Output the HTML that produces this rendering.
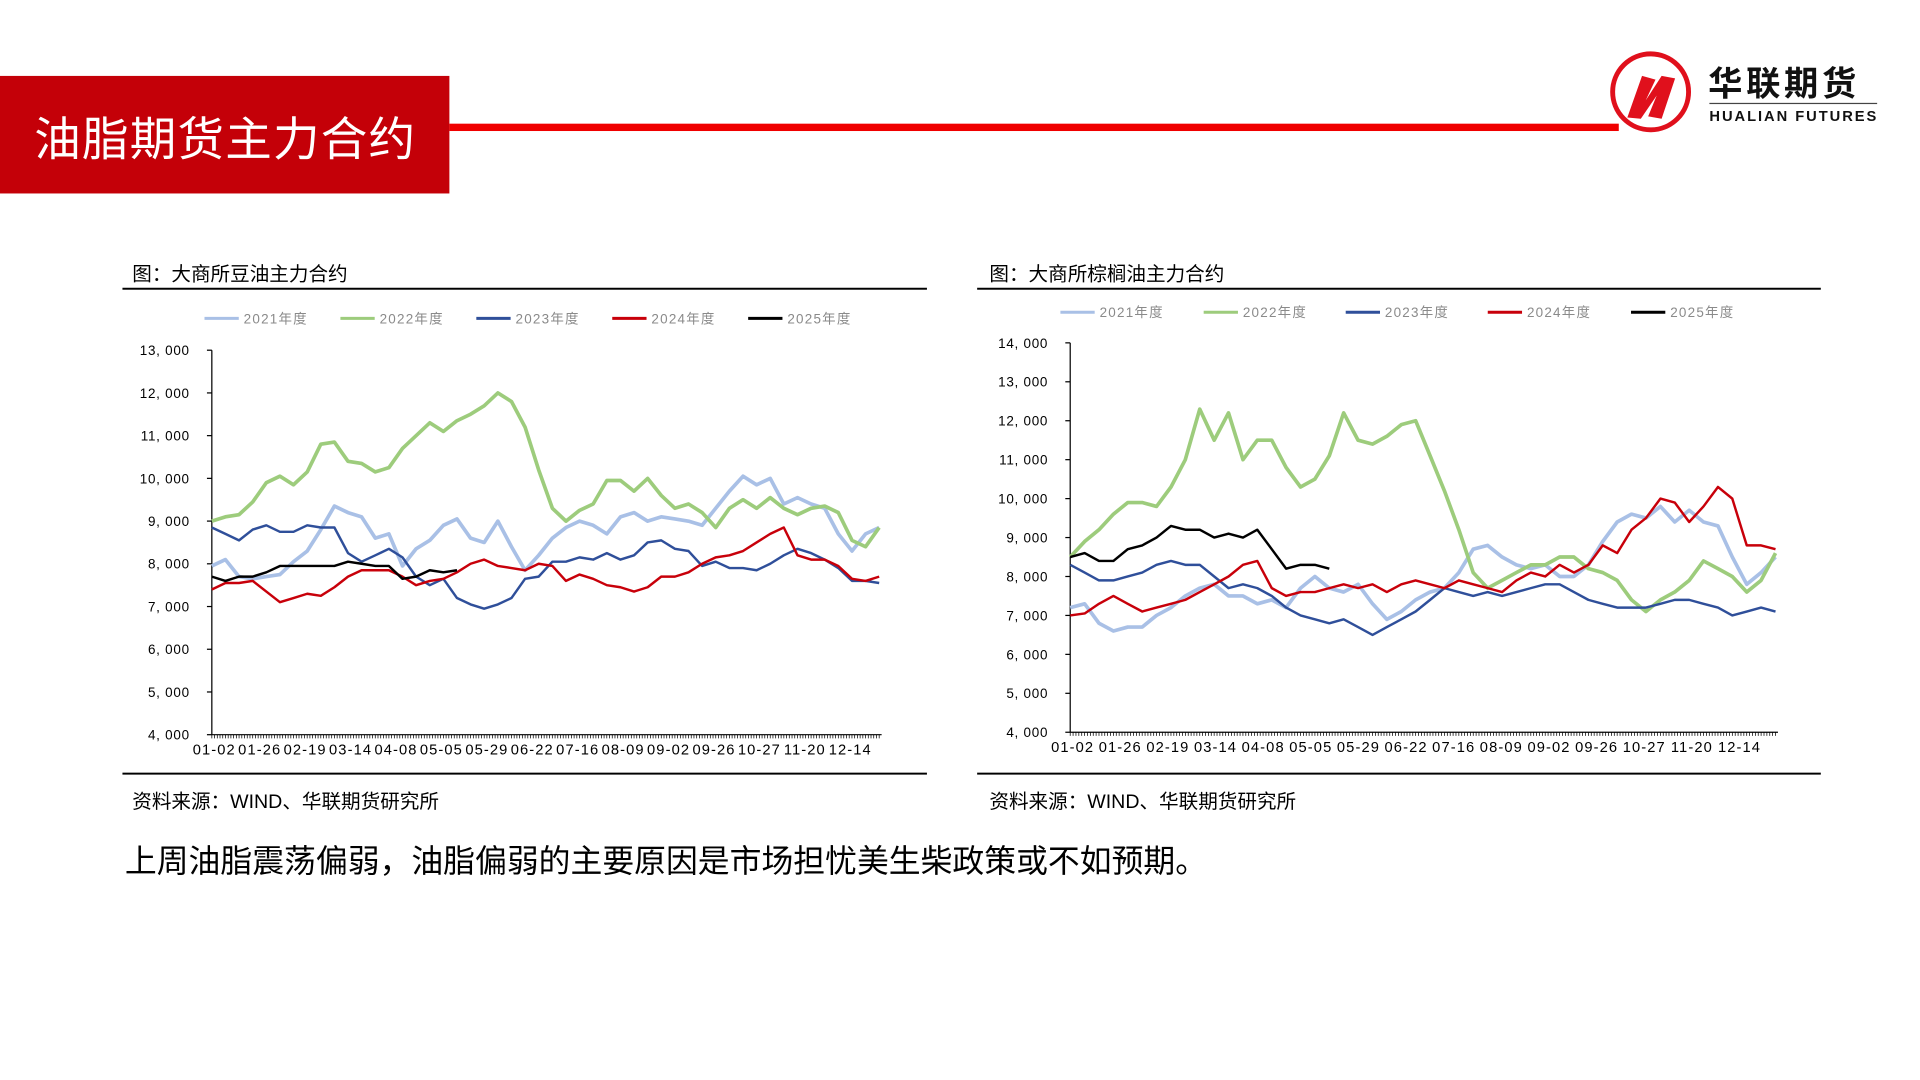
<!DOCTYPE html>
<html><head><meta charset="utf-8"><style>
html,body{margin:0;padding:0;background:#fff;}
svg{display:block;font-family:"Liberation Sans","Noto Sans CJK SC",sans-serif;}
</style></head><body>
<svg id="page" width="1920" height="1080" viewBox="0 0 1568 882" preserveAspectRatio="none" xmlns="http://www.w3.org/2000/svg">
<rect x="0" y="0" width="1568" height="882" fill="#fff"/>
<rect x="0" y="62" width="367" height="96" fill="#c40008"/>
<text x="28" y="127" font-size="38" fill="#fff" letter-spacing="1">油脂期货主力合约</text>
<rect x="367" y="101" width="955" height="6" fill="#f00000"/>
<g>
<circle cx="1348" cy="75" r="31" fill="none" stroke="#e0101c" stroke-width="4"/>
<polygon points="1329,96 1341,62 1352,65 1344,82 1357,62 1368,64 1357,97 1346,95 1353,78 1340,97" fill="#e0101c"/>
<text x="1395" y="78" font-size="28" font-weight="bold" fill="#111" letter-spacing="3">华联期货</text>
<rect x="1396" y="84" width="137" height="1" fill="#444"/>
<text x="1396" y="99" font-size="12" font-weight="bold" fill="#111" letter-spacing="1.6">HUALIAN FUTURES</text>
</g>
<g id="chartL"></g>
<g id="chartR"></g>
<text x="102" y="712" font-size="26" fill="#000">上周油脂震荡偏弱，油脂偏弱的主要原因是市场担忧美生柴政策或不如预期。</text>
</svg>
<script>
const seriesNames=["2021年度","2022年度","2023年度","2024年度","2025年度"];
const xTickLabels=["01-02","01-26","02-19","03-14","04-08","05-05","05-29","06-22","07-16","08-09","09-02","09-26","10-27","11-20","12-14"];
const leftYTicks=[4000,5000,6000,7000,8000,9000,10000,11000,12000,13000];
const rightYTicks=[4000,5000,6000,7000,8000,9000,10000,11000,12000,13000,14000];
const left2021=[7950,8100,7700,7650,7700,7750,8050,8300,8800,9350,9200,9100,8600,8700,7950,8350,8550,8900,9050,8600,8500,9000,8400,7850,8200,8600,8850,9000,8900,8700,9100,9200,9000,9100,9050,9000,8900,9300,9700,10050,9850,10000,9400,9550,9400,9300,8700,8300,8700,8850];
const left2022=[9000,9100,9150,9450,9900,10050,9850,10150,10800,10850,10400,10350,10150,10250,10700,11000,11300,11100,11350,11500,11700,12000,11800,11200,10200,9300,9000,9250,9400,9950,9950,9700,10000,9600,9300,9400,9200,8850,9300,9500,9300,9550,9300,9150,9300,9350,9200,8550,8400,8850];
const left2023=[8850,8700,8550,8800,8900,8750,8750,8900,8850,8850,8250,8050,8200,8350,8150,7700,7500,7650,7200,7050,6950,7050,7200,7650,7700,8050,8050,8150,8100,8250,8100,8200,8500,8550,8350,8300,7950,8050,7900,7900,7850,8000,8200,8350,8250,8100,7900,7600,7600,7550];
const left2024=[7400,7550,7550,7600,7350,7100,7200,7300,7250,7450,7700,7850,7850,7850,7700,7500,7600,7650,7800,8000,8100,7950,7900,7850,8000,7950,7600,7750,7650,7500,7450,7350,7450,7700,7700,7800,8000,8150,8200,8300,8500,8700,8850,8200,8100,8100,7950,7650,7600,7700];
const left2025=[7700,7600,7700,7700,7800,7950,7950,7950,7950,7950,8050,8000,7950,7950,7650,7700,7850,7800,7850];
const right2021=[7200,7300,6800,6600,6700,6700,7000,7200,7500,7700,7800,7500,7500,7300,7400,7200,7700,8000,7700,7600,7800,7300,6900,7100,7400,7600,7700,8100,8700,8800,8500,8300,8200,8300,8000,8000,8300,8900,9400,9600,9500,9800,9400,9700,9400,9300,8500,7800,8100,8500];
const right2022=[8500,8900,9200,9600,9900,9900,9800,10300,11000,12300,11500,12200,11000,11500,11500,10800,10300,10500,11100,12200,11500,11400,11600,11900,12000,11100,10200,9200,8100,7700,7900,8100,8300,8300,8500,8500,8200,8100,7900,7400,7100,7400,7600,7900,8400,8200,8000,7600,7900,8600];
const right2023=[8300,8100,7900,7900,8000,8100,8300,8400,8300,8300,8000,7700,7800,7700,7500,7200,7000,6900,6800,6900,6700,6500,6700,6900,7100,7400,7700,7600,7500,7600,7500,7600,7700,7800,7800,7600,7400,7300,7200,7200,7200,7300,7400,7400,7300,7200,7000,7100,7200,7100];
const right2024=[7000,7050,7300,7500,7300,7100,7200,7300,7400,7600,7800,8000,8300,8400,7700,7500,7600,7600,7700,7800,7700,7800,7600,7800,7900,7800,7700,7900,7800,7700,7600,7900,8100,8000,8300,8100,8300,8800,8600,9200,9500,10000,9900,9400,9800,10300,10000,8800,8800,8700];
const right2025=[8500,8600,8400,8400,8700,8800,9000,9300,9200,9200,9000,9100,9000,9200,8700,8200,8300,8300,8200];

const NS="http://www.w3.org/2000/svg";
const colors=["#a9c0e6","#9dcc7c","#2f4f9a","#c8000a","#000000"];
const widths=[3,3,2,2,2];
function mk(tag,attrs,parent){const e=document.createElementNS(NS,tag);for(const k in attrs)e.setAttribute(k,attrs[k]);parent.appendChild(e);return e;}
function fmt(v){return String(v).replace(/\B(?=(\d{3})+(?!\d))/g,", ");}

function drawChart(g,cfg){
  const t=mk('text',{x:cfg.titleX,y:229,'font-size':16,fill:'#000'},g);t.textContent=cfg.title;
  
  
  const r1=mk('rect',{x:cfg.fx0,y:235,width:cfg.fx1-cfg.fx0,height:1.6,fill:'#000'},g);
  
  
  const r2=mk('rect',{x:cfg.fx0,y:631,width:cfg.fx1-cfg.fx0,height:1.6,fill:'#000'},g);
  
  
  const src=mk('text',{x:cfg.titleX,y:660,'font-size':16,fill:'#000'},g);src.textContent="资料来源：WIND、华联期货研究所";
  
  
  const ymin=cfg.yTicks[0],ymax=cfg.yTicks[cfg.yTicks.length-1];
  const yS=v=>cfg.yBot-(v-ymin)/(ymax-ymin)*(cfg.yBot-cfg.yTop);
  const N=49;
  const xS=i=>cfg.x0+i/N*(cfg.x1-cfg.x0);
  seriesNames.forEach((n,k)=>{
    const lg=mk('g',{},g);
    
    
    const lx=cfg.legX[k];
    mk('line',{x1:lx,y1:cfg.legY,x2:lx+28,y2:cfg.legY,stroke:colors[k],'stroke-width':2.5},lg);
    const tx=mk('text',{x:lx+32,y:cfg.legY+4,'font-size':11,fill:'#8a8a8a','letter-spacing':1},lg);tx.textContent=n;
  });
  const ya=mk('line',{x1:cfg.x0,y1:cfg.yTop,x2:cfg.x0,y2:cfg.yBot,stroke:'#000','stroke-width':1},g);
  
  
  cfg.yTicks.forEach(v=>{
    const y=yS(v);
    mk('line',{x1:cfg.x0-4,y1:y,x2:cfg.x0,y2:y,stroke:'#000','stroke-width':1},g);
    const tx=mk('text',{x:cfg.x0-18,y:y+4,'font-size':11,fill:'#000','text-anchor':'end','letter-spacing':0.6},g);tx.textContent=fmt(v);
    
    
  });
  const xa=mk('line',{x1:cfg.x0,y1:cfg.yBot,x2:cfg.x1+2,y2:cfg.yBot,stroke:'#000','stroke-width':1},g);
  
  
  const days=245;
  let d="";
  for(let j=0;j<=days;j++){const x=cfg.x0+j/days*(cfg.x1-cfg.x0);d+="M"+x.toFixed(2)+" "+cfg.yBot+"v3";}
  mk('path',{d:d,stroke:'#000','stroke-width':0.6,fill:'none'},g);
  xTickLabels.forEach((l,k)=>{
    const x=cfg.x0+2+k*cfg.xLabStep;
    const tx=mk('text',{x:x,y:cfg.yBot+16,'font-size':12,fill:'#000','text-anchor':'middle','letter-spacing':0.9},g);tx.textContent=l;
    
    
  });
  cfg.series.forEach((arr,k)=>{
    const pts=arr.map((v,i)=>xS(i).toFixed(1)+","+yS(v).toFixed(1)).join(" ");
    const p=mk('polyline',{points:pts,fill:'none',stroke:colors[k],'stroke-width':widths[k],'stroke-linejoin':'round'},g);
    
    
  });
}
drawChart(document.getElementById('chartL'),{title:"图：大商所豆油主力合约",titleX:108,fx0:100,fx1:757,x0:173,x1:718,yTop:286,yBot:600,yTicks:leftYTicks,legX:[167,278,389,500,611],legY:260,xLabStep:37.1,series:[left2021,left2022,left2023,left2024,left2025]});
drawChart(document.getElementById('chartR'),{title:"图：大商所棕榈油主力合约",titleX:808,fx0:798,fx1:1487,x0:874,x1:1450,yTop:280,yBot:598,yTicks:rightYTicks,legX:[866,983,1099,1215,1332],legY:255,xLabStep:38.9,series:[right2021,right2022,right2023,right2024,right2025]});
</script>
</body></html>
